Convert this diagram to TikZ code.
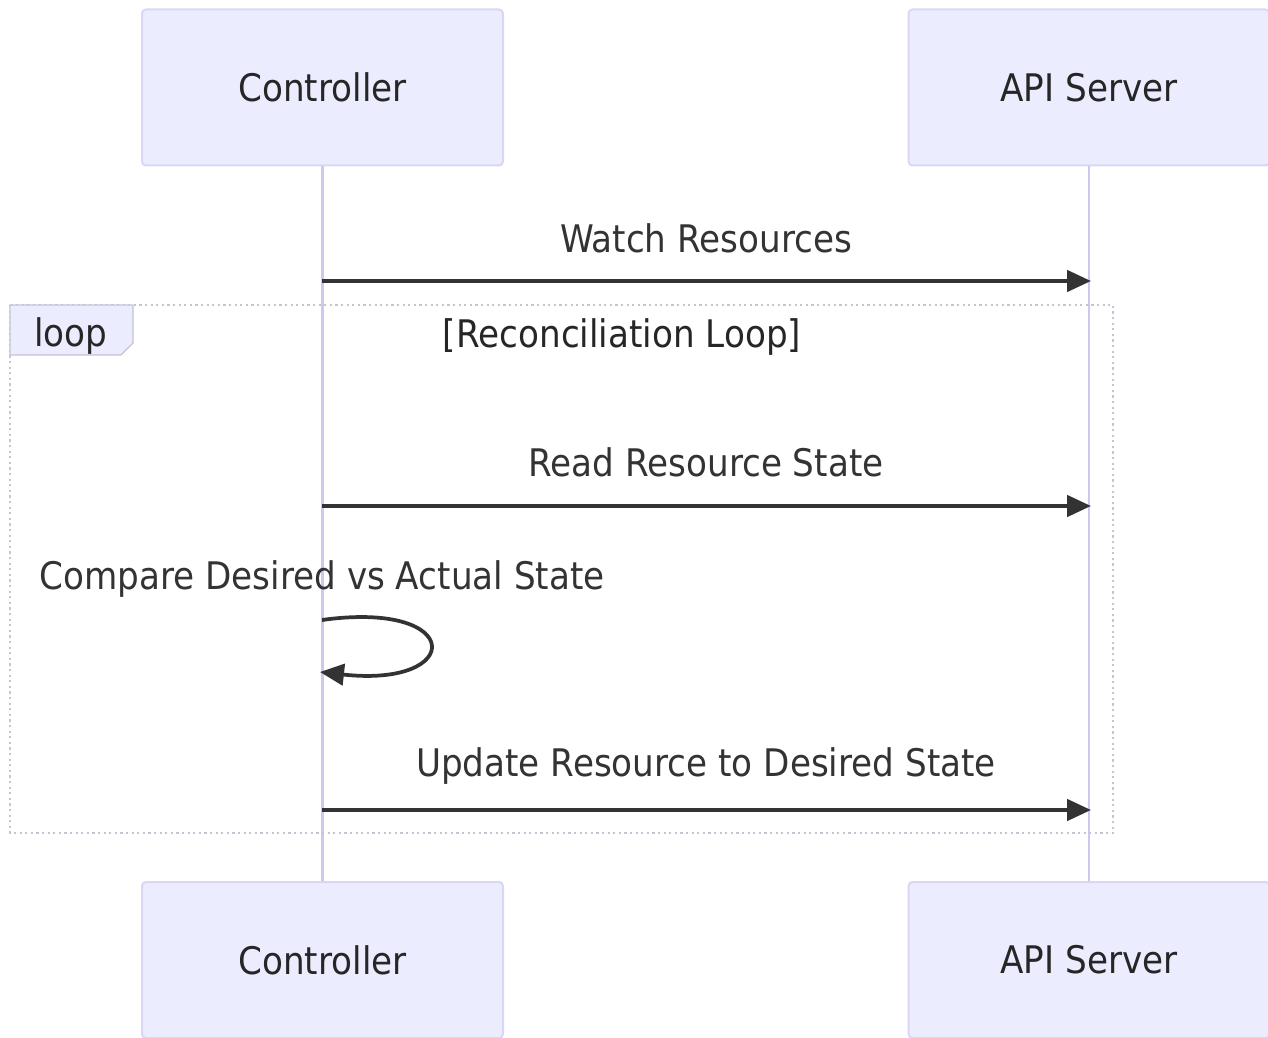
\documentclass[tikz,border=0pt]{standalone}
\usepackage{fontspec}
\setmainfont{DejaVu Sans}[FakeStretch=0.9]
\usetikzlibrary{arrows.meta}
\definecolor{actfill}{HTML}{ECECFF}
\definecolor{actdraw}{HTML}{DAD6F4}
\definecolor{lifeln}{HTML}{CDC8F0}
\definecolor{msgcol}{HTML}{333333}
\definecolor{loopcol}{HTML}{C4C4D4}
\tikzset{
  actor/.style={draw=actdraw, fill=actfill, line width=1.5pt, rounded corners=3pt,
    minimum width=361*0.75pt, minimum height=156*0.75pt, inner sep=0pt,
    font=\fontsize{28.5pt}{32pt}\selectfont, text=black!85},
  life/.style={draw=lifeln, line width=1.8pt},
  msg/.style={draw=msgcol, line width=2.8pt, -{Triangle[length=18pt, width=16pt]}},
  lbl/.style={font=\fontsize{28.5pt}{32pt}\selectfont, text=msgcol, inner sep=0pt},
  loopframe/.style={draw=loopcol, line width=1.6pt, dash pattern=on 1.6pt off 2.6pt},
}
\begin{document}
\begin{tikzpicture}[x=0.75pt, y=-0.75pt]
\useasboundingbox (0,0) rectangle (1268,1038);
% actors
\node[actor] (ctop) at (322.5,87.5) {Controller};
\node[actor] (atop) at (1089,87.5) {API Server};
\node[actor] (cbot) at (322.5,960) {Controller};
\node[actor] (abot) at (1089,960) {API Server};
% lifelines
\draw[life] (ctop.south) -- (cbot.north);
\draw[life] (atop.south) -- (abot.north);
% loop frame
\draw[loopframe] (10,305) rectangle (1113,833);
\draw[draw=loopcol, fill=actfill, line width=1pt] (10,305) -- (133,305) -- (133,343) -- (121,355) -- (10,355) -- cycle;
\node[lbl, text=black!85] (looplbl) at (71,336) {loop};
\node[lbl, text=black!85] (loopcond) at (622,337) {[Reconciliation Loop]};
% coordinates on lifelines
\coordinate (c1) at (322,281); \coordinate (a1) at (1091,281);
\coordinate (c2) at (322,506); \coordinate (a2) at (1091,506);
\coordinate (c3s) at (322,620); \coordinate (c3e) at (320,672);
\coordinate (c4) at (322,810); \coordinate (a4) at (1091,810);
% messages
\node[lbl] (m1) at (706,238) {Watch Resources};
\draw[msg] (c1) -- (a1);
\node[lbl] (m2) at (706,462) {Read Resource State};
\draw[msg] (c2) -- (a2);
\node[lbl] (m3) at (322,579) {Compare Desired vs Actual State};
\draw[msg] (c3s) .. controls (465,600) and (465,688) .. (c3e);
\node[lbl] (m4) at (706,766) {Update Resource to Desired State};
\draw[msg] (c4) -- (a4);
\end{tikzpicture}
\end{document}
